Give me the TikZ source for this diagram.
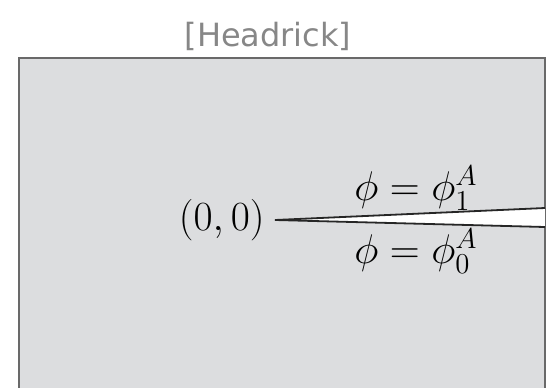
\documentclass[tikz,border=0pt]{standalone}
\usepackage{fontspec}
\newfontfamily\titlefont{DejaVu Sans}
\usepackage{tikz}
\usetikzlibrary{positioning}

\definecolor{slab}{RGB}{220,221,223}
\definecolor{rim}{RGB}{105,105,105}
\definecolor{headgray}{RGB}{135,135,135}

\begin{document}
\begin{tikzpicture}[
    x=0.5pt, y=-0.5pt,
    region/.style={fill=slab, draw=rim, line width=0.7pt},
    cut/.style={draw=black!85, line width=0.9pt},
    lbl/.style={inner sep=0pt, font=\fontsize{20}{22}\selectfont}
]
    \useasboundingbox (0,0) rectangle (548,387);
    \path[region] (19,400) -- (19,58) -- (545,58) -- (545,400);
    \node[font=\titlefont\fontsize{16}{18}\selectfont, text=headgray] (title) at (268,36) {[Headrick]};

    \coordinate (tip) at (275,220);
    \coordinate (up) at (545,208);
    \coordinate (lo) at (545,227);
    \fill[white] (tip) -- (up) -- (lo) -- cycle;
    \draw[cut] (tip) -- (up);
    \draw[cut] (tip) -- (lo);

    \node[lbl, left=10 of tip] (origin) {$(0,0)$};
    \node[lbl] (phione) at (416,188) {$\phi=\phi^A_1$};
    \node[lbl] (phizero) at (416,251) {$\phi=\phi^A_0$};
\end{tikzpicture}
\end{document}
